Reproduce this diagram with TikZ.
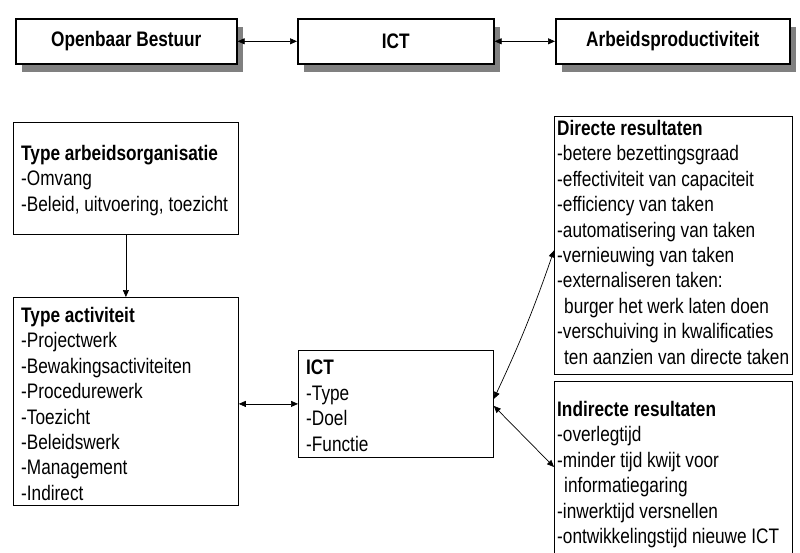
\documentclass[tikz,border=0pt]{standalone}
\usepackage{fontspec}
\setmainfont[FakeStretch=0.82]{Liberation Sans}
\usetikzlibrary{arrows.meta,shadows}

\begin{document}
\begin{tikzpicture}[x=1pt,y=-1pt,
  basefont/.style={font=\fontsize{21pt}{25.4pt}\selectfont},
  topbox/.style={draw, line width=1.6pt, fill=white, minimum height=45pt,
    anchor=north west, inner sep=0pt,
    font=\fontsize{21pt}{25.4pt}\selectfont\bfseries,
    drop shadow={shadow xshift=6pt, shadow yshift=-8pt, fill=black!50, opacity=1}},
  box/.style={draw, line width=0.8pt, anchor=north west, inner sep=0pt},
  txt/.style={basefont, anchor=north west, inner sep=0pt, align=left},
  both/.style={{Triangle[length=7pt,width=6pt]}-{Triangle[length=7pt,width=6pt]}, line width=0.7pt},
  single/.style={-{Triangle[length=7pt,width=6pt]}, line width=0.7pt}
]
\useasboundingbox (0,0) rectangle (800,552);
\fill[white] (0,0) rectangle (800,552);

% top row
\node[topbox, minimum width=221pt] (ob) at (15,18) {Openbaar Bestuur};
\node[topbox, minimum width=196pt] (ictt) at (297,18) {ICT};
\node[topbox, minimum width=234pt] (ap) at (555,18) {Arbeidsproductiviteit};
\draw[both] (ob) -- (ictt);
\draw[both] (ictt) -- (ap);

% frames
\node[box, minimum width=225pt, minimum height=112pt] (org) at (13,122) {};
\node[box, minimum width=225pt, minimum height=208pt] (act) at (13,297) {};
\node[box, minimum width=195pt, minimum height=107pt] (ict) at (298,350) {};
\node[box, minimum width=238pt, minimum height=258pt] (dir) at (554,116) {};
\node[box, minimum width=238pt, minimum height=190pt] (ind) at (554,381) {};

% texts
\node[txt] (org-text) at (21,145) {\textbf{Type arbeidsorganisatie}\\-Omvang\\-Beleid, uitvoering, toezicht};
\node[txt] (act-text) at (21,307) {\textbf{Type activiteit}\\-Projectwerk\\-Bewakingsactiviteiten\\-Procedurewerk\\-Toezicht\\-Beleidswerk\\-Management\\-Indirect};
\node[txt] (ict-text) at (306,360) {\textbf{ICT}\\-Type\\-Doel\\-Functie};
\node[txt] (dir-text) at (557,120) {\textbf{Directe resultaten}\\-betere bezettingsgraad\\-effectiviteit van capaciteit\\-efficiency van taken\\-automatisering van taken\\-vernieuwing van taken\\-externaliseren taken:\\\hspace*{7pt}burger het werk laten doen\\-verschuiving in kwalificaties\\\hspace*{7pt}ten aanzien van directe taken};
\node[txt] (ind-text) at (557,401) {\textbf{Indirecte resultaten}\\-overlegtijd\\-minder tijd kwijt voor\\\hspace*{7pt}informatiegaring\\-inwerktijd versnellen\\-ontwikkelingstijd nieuwe ICT};

% connectors
\draw[single] (org) -- (act);
\draw[both] (act.east |- ict.west) -- (ict.west);
\draw[both] ([yshift=5pt]ict.east) to[bend right=3] ([yshift=-5pt]dir.west);
\draw[both] ([yshift=-2pt]ict.east) -- ([yshift=-86pt]ind.north west);
\end{tikzpicture}
\end{document}
